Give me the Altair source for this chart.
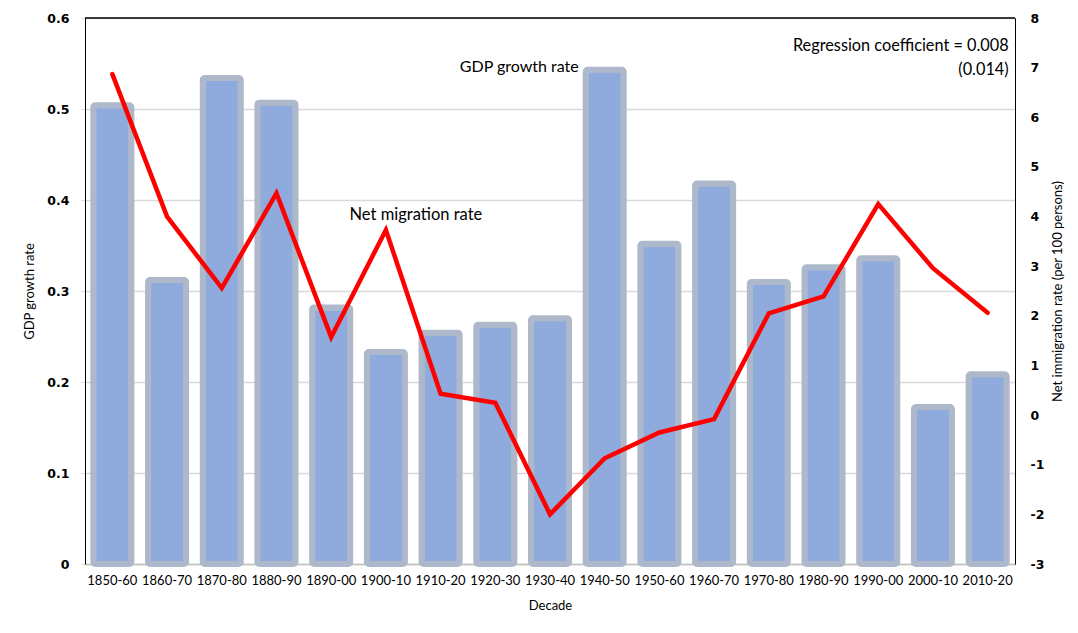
import altair as alt
import pandas as pd

decades = ["1850-60", "1860-70", "1870-80", "1880-90", "1890-00", "1900-10",
           "1910-20", "1920-30", "1930-40", "1940-50", "1950-60", "1960-70",
           "1970-80", "1980-90", "1990-00", "2000-10", "2010-20"]
gdp_growth = [0.504, 0.312, 0.534, 0.507, 0.282, 0.233, 0.254, 0.263, 0.270,
              0.543, 0.352, 0.418, 0.310, 0.326, 0.336, 0.1725, 0.2085]
net_migration = [6.87, 4.00, 2.56, 4.47, 1.57, 3.73, 0.43, 0.25, -2.00,
                 -0.87, -0.35, -0.08, 2.05, 2.39, 4.25, 2.96, 2.06]

left_ticks = [0, 0.1, 0.2, 0.3, 0.4, 0.5, 0.6]
right_ticks = [-3, -2, -1, 0, 1, 2, 3, 4, 5, 6, 7, 8]

df = pd.DataFrame({"decade": decades, "gdp": gdp_growth, "mig": net_migration})
frame_df = pd.DataFrame({"gdp": [0.6]})

FONT = "Lato"
TICKFONT = "DejaVu Sans"

xenc = alt.X("decade:N", sort=decades,
             scale=alt.Scale(paddingInner=0.305, paddingOuter=0.1525),
             axis=alt.Axis(title="Decade", labelAngle=0, labelFont=FONT, labelFontSize=13,
                           labelColor="#000000", labelPadding=10, ticks=False,
                           domainColor="#BFBFBF", domainWidth=1.5,
                           titleFont=FONT, titleFontSize=13, titleFontWeight="normal",
                           titleColor="#000000", titlePadding=12))

bars = alt.Chart(df).mark_bar(
    color="#8FAADC", stroke="#ADB9CA", strokeWidth=6, cornerRadius=2
).encode(
    x=xenc,
    y=alt.Y("gdp:Q",
            scale=alt.Scale(domain=[0, 0.6], nice=False),
            axis=alt.Axis(title="GDP growth rate", values=left_ticks, format=".1~f",
                          labelFont=TICKFONT, labelFontWeight="bold", labelFontSize=12.5,
                          labelColor="#000000", labelPadding=12,
                          ticks=True, tickSize=4, tickColor="#D9D9D9",
                          domainColor="#000000", domainWidth=1,
                          grid=True, gridColor="#D9D9D9", gridWidth=1.5,
                          titleFont=FONT, titleFontSize=13, titleFontWeight="normal",
                          titleColor="#000000", titlePadding=10)),
)

line = alt.Chart(df).mark_line(
    color="#FF0000", strokeWidth=4.5, strokeJoin="miter", strokeCap="round"
).encode(
    x=alt.X("decade:N", sort=decades),
    y=alt.Y("mig:Q",
            scale=alt.Scale(domain=[-3, 8], nice=False),
            axis=alt.Axis(title="Net immigration rate (per 100 persons)", orient="right",
                          values=right_ticks, labelExpr="'' + datum.value",
                          labelFont=TICKFONT, labelFontWeight="bold", labelFontSize=12.5,
                          labelColor="#000000", labelPadding=15,
                          ticks=False, domainColor="#000000", domainWidth=1, grid=False,
                          titleFont=FONT, titleFontSize=13, titleFontWeight="normal",
                          titleColor="#000000", titleAngle=270, titlePadding=21)),
)

ann_gdp = pd.DataFrame({"decade": ["1940-50"], "gdp": [0.546], "label": ["GDP growth rate"]})
ann_mig = pd.DataFrame({"decade": ["1900-10"], "gdp": [0.383], "label": ["Net migration rate"]})
ann_reg = pd.DataFrame({"decade": ["2010-20", "2010-20"], "gdp": [0.569, 0.543],
                        "label": ["Regression coefficient = 0.008", "(0.014)"]})

t1 = alt.Chart(ann_gdp).mark_text(font=FONT, fontSize=16, align="right", baseline="middle",
                                  dx=-26, color="#000000").encode(
    x=alt.X("decade:N", sort=decades), y=alt.Y("gdp:Q"), text="label:N")
t2 = alt.Chart(ann_mig).mark_text(font=FONT, fontSize=16.5, align="center", baseline="middle",
                                  dx=30, color="#000000").encode(
    x=alt.X("decade:N", sort=decades), y=alt.Y("gdp:Q"), text="label:N")
t3 = alt.Chart(ann_reg).mark_text(font=FONT, fontSize=16.3, align="right", baseline="middle",
                                  dx=21, color="#000000").encode(
    x=alt.X("decade:N", sort=decades), y=alt.Y("gdp:Q"), text="label:N")

# top frame line of the plot box, at the top of the left scale
top_rule = alt.Chart(frame_df).mark_rule(color="#000000", strokeWidth=1.5).encode(
    y=alt.Y("gdp:Q"))

left_layer = alt.layer(bars, top_rule, t1, t2, t3)

chart = alt.layer(left_layer, line).resolve_scale(y="independent").properties(
    width=930, height=546,
    autosize=alt.AutoSizeParams(type="none"),
    padding={"left": 77, "top": 10, "right": 55, "bottom": 60},
    background="#FFFFFF",
).configure_view(stroke="#000000", strokeWidth=1)

chart.save("out.html", embed_options={"renderer": "svg", "actions": False})
